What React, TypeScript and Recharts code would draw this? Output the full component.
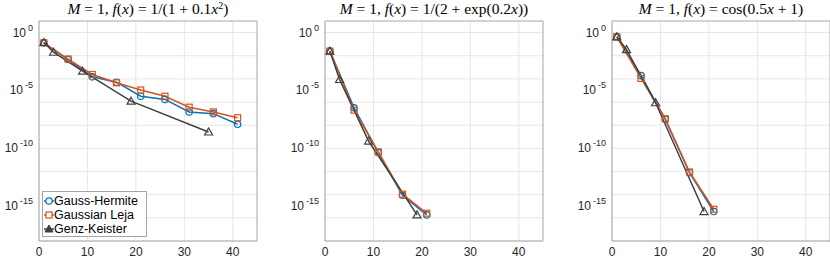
import React from "react";
import {
  LineChart,
  Line,
  XAxis,
  YAxis,
  CartesianGrid,
  ReferenceArea
} from "recharts";

// node counts for each rule
const ghX = [1, 6, 11, 16, 21, 26, 31, 36, 41];
const gkX = [1, 3, 9, 19, 35];

// panel 1: f(x) = 1/(1+0.1x^2)
const p1Hermite = [1.3e-1, 4.7e-3, 1.5e-4, 5.2e-5, 3.2e-6, 1.7e-6, 1.4e-7, 1.0e-7, 1.2e-8];
const p1Leja = [1.3e-1, 5.2e-3, 2.4e-4, 4.6e-5, 1.1e-5, 3.2e-6, 3.6e-7, 1.4e-7, 4.4e-8];
const p1Genz = [1.4e-1, 2.0e-2, 4.6e-4, 1.2e-6, 2.6e-9];

// panel 2: f(x) = 1/(2+exp(0.2x))
const p2Hermite = [2.5e-2, 3.2e-7, 4.3e-11, 8.9e-15, 1.8e-16];
const p2Leja = [2.5e-2, 2.0e-7, 5.0e-11, 1.1e-14, 2.5e-16];
const p2Genz = [2.5e-2, 8.9e-5, 4.3e-10, 1.8e-16];

// panel 3: f(x) = cos(0.5x+1)
const p3Hermite = [4.3e-1, 1.9e-4, 3.2e-8, 7.9e-13, 3.5e-16];
const p3Leja = [4.3e-1, 1.1e-4, 3.6e-8, 9.1e-13, 5.5e-16];
const p3Genz = [4.3e-1, 3.4e-2, 8.7e-7, 3.5e-16];

const xTicks = [0, 10, 20, 30, 40];
const yTicks = [1e-15, 1e-10, 1e-5, 1];
const decades = [1e1, 1, 1e-1, 1e-2, 1e-3, 1e-4, 1e-5, 1e-6, 1e-7, 1e-8, 1e-9,
  1e-10, 1e-11, 1e-12, 1e-13, 1e-14, 1e-15, 1e-16, 1e-17, 1e-18];

const seriesNames = ["Gauss-Hermite", "Gaussian Leja", "Genz-Keister"];
const BLUE = "#0072BD";
const ORANGE = "#D95319";
const GRAY = "#404040";
const SANS = "'Liberation Sans', Arial, sans-serif";

const toPoints = (xs: number[], ys: number[]) => ys.map((v, i) => ({ x: xs[i], y: v }));

const CircleDot = (props: any) => {
  const { cx, cy, index } = props;
  if (cx == null || cy == null) return <g key={index} />;
  return <circle key={index} cx={cx} cy={cy} r={3.2} fill="none" stroke={BLUE} strokeWidth={1.2} />;
};

const SquareDot = (props: any) => {
  const { cx, cy, index } = props;
  if (cx == null || cy == null) return <g key={index} />;
  return <rect key={index} x={cx - 3} y={cy - 3} width={6} height={6} fill="none" stroke={ORANGE} strokeWidth={1.2} />;
};

const TriangleDot = (props: any) => {
  const { cx, cy, index } = props;
  if (cx == null || cy == null) return <g key={index} />;
  return (
    <polygon
      key={index}
      points={`${cx},${cy - 4} ${cx - 4},${cy + 3} ${cx + 4},${cy + 3}`}
      fill="none"
      stroke={GRAY}
      strokeWidth={1.2}
    />
  );
};

// "10" with a raised exponent, right edge 6px left of the plot box
const YTick = (props: any) => {
  const { y, payload } = props;
  const exp = Math.round(Math.log10(payload.value));
  return (
    <text x={33} y={y + 4} textAnchor="end" fontSize={12} fill="#262626" fontFamily={SANS}>
      <tspan>10</tspan>
      <tspan dx={2} dy={-6} fontSize={9}>{exp}</tspan>
    </text>
  );
};

type PanelProps = {
  left: number;
  title: React.ReactNode;
  hermite: number[];
  leja: number[];
  genz: number[];
  legend?: boolean;
};

function Panel({ left, title, hermite, leja, genz, legend }: PanelProps) {
  const width = 270;
  return (
    <div style={{ position: "absolute", left, top: 0, width, height: 259 }}>
      <div
        style={{
          position: "absolute",
          left: 39,
          width: 218,
          top: 1,
          textAlign: "center",
          fontFamily: "'Liberation Serif', 'Times New Roman', serif",
          fontSize: 15.5,
          lineHeight: "16px",
          whiteSpace: "nowrap",
          color: "#000"
        }}
      >
        {title}
      </div>
      <LineChart width={width} height={259} margin={{ top: 21, right: 13, bottom: 0, left: 0 }}>
        <CartesianGrid
          stroke="#E6E6E6"
          horizontalValues={decades}
          verticalValues={xTicks}
        />
        <XAxis
          type="number"
          dataKey="x"
          domain={[0, 45]}
          ticks={xTicks}
          allowDataOverflow
          axisLine={false}
          tickLine={false}
          tickSize={4}
          height={18}
          tick={{ fontSize: 12, fill: "#262626", fontFamily: SANS }}
        />
        <YAxis
          type="number"
          dataKey="y"
          scale="log"
          domain={[1e-18, 10]}
          ticks={yTicks}
          allowDataOverflow
          axisLine={false}
          tickLine={false}
          width={39}
          tick={<YTick />}
        />
        <ReferenceArea x1={0} x2={45} y1={1e-18} y2={10} fill="none" stroke="#A6A6A6" strokeWidth={1} ifOverflow="visible" />
        <Line
          data={toPoints(ghX, hermite)}
          dataKey="y"
          name={seriesNames[0]}
          stroke={BLUE}
          strokeWidth={1.5}
          dot={CircleDot}
          isAnimationActive={false}
        />
        <Line
          data={toPoints(ghX, leja)}
          dataKey="y"
          name={seriesNames[1]}
          stroke={ORANGE}
          strokeWidth={1.5}
          dot={SquareDot}
          isAnimationActive={false}
        />
        <Line
          data={toPoints(gkX, genz)}
          dataKey="y"
          name={seriesNames[2]}
          stroke={GRAY}
          strokeWidth={1.5}
          dot={TriangleDot}
          isAnimationActive={false}
        />
      </LineChart>
      {legend && (
        <div
          style={{
            position: "absolute",
            left: 42,
            top: 191,
            width: 105,
            height: 46,
            border: "1px solid #A6A6A6",
            background: "#fff",
            fontFamily: SANS,
            fontSize: 12.5,
            color: "#000",
            lineHeight: "14px",
            paddingTop: 2,
            boxSizing: "border-box"
          }}
        >
          {seriesNames.map((name, i) => (
            <div key={name} style={{ display: "flex", alignItems: "center", height: 14 }}>
              <svg width={10} height={14} style={{ marginLeft: 1 }}>
                <line x1={0} x2={10} y1={7} y2={7} stroke={[BLUE, ORANGE, GRAY][i]} strokeWidth={1.5} />
                {i === 0 && <circle cx={5} cy={7} r={3.2} fill="#fff" stroke={BLUE} strokeWidth={1.2} />}
                {i === 1 && <rect x={2} y={4} width={6} height={6} fill="#fff" stroke={ORANGE} strokeWidth={1.2} />}
                {i === 2 && <polygon points="5,3 1,10 9,10" fill={GRAY} stroke={GRAY} strokeWidth={1} />}
              </svg>
              <span>{name}</span>
            </div>
          ))}
        </div>
      )}
    </div>
  );
}

const I = ({ children }: { children: React.ReactNode }) => <i>{children}</i>;

export default function App() {
  return (
    <div style={{ position: "fixed", left: 0, top: 0, width: 830, height: 259, background: "#fff", overflow: "hidden" }}>
      <Panel
        left={0}
        legend
        hermite={p1Hermite}
        leja={p1Leja}
        genz={p1Genz}
        title={<><I>M</I> = 1, <I>f</I>(<I>x</I>) = 1/(1 + 0.1<I>x</I><span style={{ fontSize: 10, position: "relative", top: -5 }}>2</span>)</>}
      />
      <Panel
        left={286}
        hermite={p2Hermite}
        leja={p2Leja}
        genz={p2Genz}
        title={<><I>M</I> = 1, <I>f</I>(<I>x</I>) = 1/(2 + exp(0.2<I>x</I>))</>}
      />
      <Panel
        left={573}
        hermite={p3Hermite}
        leja={p3Leja}
        genz={p3Genz}
        title={<><I>M</I> = 1, <I>f</I>(<I>x</I>) = cos(0.5<I>x</I> + 1)</>}
      />
    </div>
  );
}
